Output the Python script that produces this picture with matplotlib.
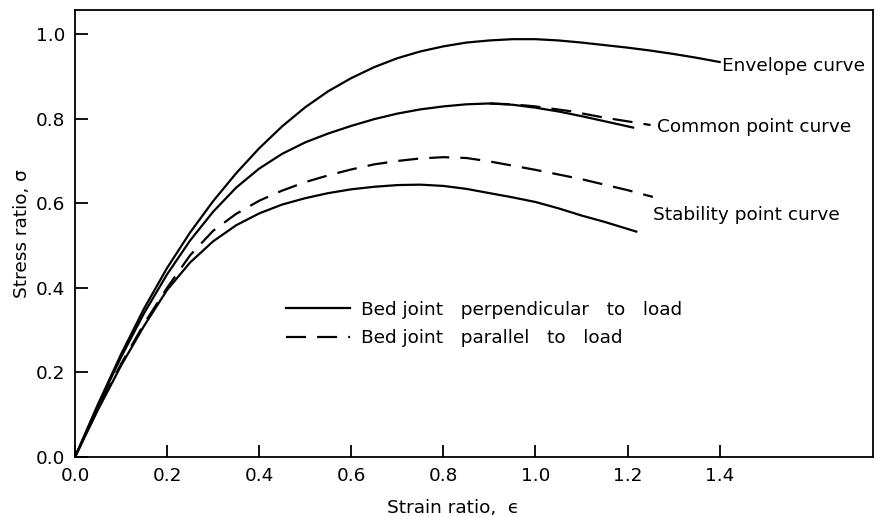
import matplotlib
matplotlib.use("Agg")
import matplotlib.pyplot as plt

# ---- data ----
env_x = [0, 0.05, 0.1, 0.15, 0.2, 0.25, 0.3, 0.35, 0.4, 0.45, 0.5, 0.55, 0.6, 0.65, 0.7,
         0.75, 0.8, 0.85, 0.9, 0.95, 1.0, 1.05, 1.1, 1.15, 1.2, 1.25, 1.3, 1.35, 1.4]
env_y = [0, 0.125, 0.243, 0.351, 0.447, 0.531, 0.605, 0.671, 0.730, 0.782, 0.827, 0.865, 0.896, 0.922, 0.943,
         0.959, 0.971, 0.980, 0.985, 0.988, 0.988, 0.985, 0.980, 0.974, 0.968, 0.961, 0.953, 0.944, 0.934]

com_solid_x = [0, 0.05, 0.1, 0.15, 0.2, 0.25, 0.3, 0.35, 0.4, 0.45, 0.5, 0.55, 0.6, 0.65, 0.7,
               0.75, 0.8, 0.85, 0.9, 0.95, 1.0, 1.05, 1.1, 1.15, 1.212]
com_solid_y = [0, 0.122, 0.236, 0.340, 0.432, 0.512, 0.580, 0.637, 0.682, 0.717, 0.744, 0.765, 0.783, 0.799, 0.812,
               0.822, 0.829, 0.834, 0.836, 0.833, 0.826, 0.817, 0.806, 0.794, 0.779]

com_dash_x = [0.9, 0.95, 1.0, 1.074, 1.147, 1.25]
com_dash_y = [0.836, 0.834, 0.829, 0.818, 0.803, 0.785]

stab_dash_x = [0, 0.05, 0.1, 0.15, 0.2, 0.25, 0.3, 0.35, 0.4, 0.45, 0.5, 0.55, 0.6, 0.65, 0.7,
               0.75, 0.8, 0.85, 0.9, 0.95, 1.0, 1.05, 1.1, 1.15, 1.2, 1.255]
stab_dash_y = [0, 0.115, 0.220, 0.315, 0.400, 0.477, 0.535, 0.575, 0.606, 0.630, 0.650, 0.666, 0.680, 0.692, 0.700,
               0.706, 0.709, 0.707, 0.699, 0.689, 0.679, 0.668, 0.657, 0.644, 0.631, 0.615]

stab_solid_x = [0, 0.05, 0.1, 0.15, 0.2, 0.25, 0.3, 0.35, 0.4, 0.45, 0.5, 0.55, 0.6, 0.65, 0.7,
                0.75, 0.8, 0.85, 0.9, 0.95, 1.0, 1.05, 1.1, 1.15, 1.219]
stab_solid_y = [0, 0.112, 0.216, 0.310, 0.395, 0.460, 0.510, 0.548, 0.576, 0.597, 0.612, 0.624, 0.633, 0.639, 0.643,
                0.644, 0.641, 0.634, 0.624, 0.614, 0.603, 0.588, 0.571, 0.556, 0.533]

curve_labels = ["Envelope curve", "Common point curve", "Stability point curve"]
curve_label_pos = [(1.405, 0.925), (1.265, 0.78), (1.255, 0.572)]
legend_labels = ["Bed joint   perpendicular   to   load", "Bed joint   parallel   to   load"]

x_ticks = [0.0, 0.2, 0.4, 0.6, 0.8, 1.0, 1.2, 1.4]
y_ticks = [0.0, 0.2, 0.4, 0.6, 0.8, 1.0]

# ---- figure ----
plt.rcParams['font.family'] = ['DejaVu Sans']
fig = plt.figure(figsize=(8.75, 5.17), dpi=100)
ax = fig.add_axes([75/875, 1-457/517, 798/875, 447/517])

lw = 1.6
dash = (9, 5)
ax.plot(env_x, env_y, color='black', lw=lw)
ax.plot(com_solid_x, com_solid_y, color='black', lw=lw)
ax.plot(com_dash_x, com_dash_y, color='black', lw=lw, dashes=dash)
l_par, = ax.plot(stab_dash_x, stab_dash_y, color='black', lw=lw, dashes=dash)
l_perp, = ax.plot(stab_solid_x, stab_solid_y, color='black', lw=lw)

fs = 13.3
for lab, (tx, ty) in zip(curve_labels, curve_label_pos):
    ax.text(tx, ty, lab, fontsize=fs, va='center', ha='left')

ax.legend([l_perp, l_par], legend_labels, loc='center left',
          bbox_to_anchor=(0.264, 0.2975), frameon=False, fontsize=fs,
          handlelength=3.5, handletextpad=0.6, labelspacing=0.55,
          borderpad=0, borderaxespad=0)

ax.set_xlim(0, 1.733)
ax.set_ylim(0, 1.057)
ax.set_xticks(x_ticks)
ax.set_xticklabels([f"{v:.1f}" for v in x_ticks])
ax.set_yticks(y_ticks)
ax.set_yticklabels([f"{v:.1f}" for v in y_ticks])
ax.tick_params(direction='in', length=9, width=1.3, labelsize=fs, pad=7)
for s in ax.spines.values():
    s.set_linewidth(1.3)

ax.set_xlabel("Strain ratio,  \u03f5", fontsize=fs)
ax.xaxis.set_label_coords(0.474, -0.095)
ax.set_ylabel("Stress ratio, \u03c3", fontsize=fs)
ax.yaxis.set_label_coords(-0.055, 0.5)

fig.savefig("out.png", dpi=100)
